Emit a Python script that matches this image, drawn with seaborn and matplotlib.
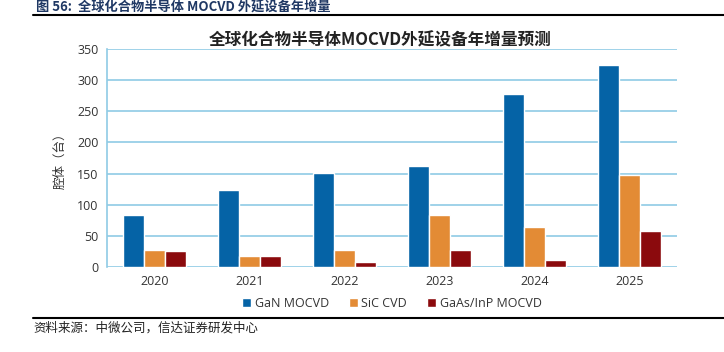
import numpy as np
import pandas as pd
import matplotlib
matplotlib.use("Agg")
import matplotlib.pyplot as plt
import seaborn as sns

# data
years = ["2020", "2021", "2022", "2023", "2024", "2025"]
gan = [84, 124, 151, 162, 278, 324]
sic = [27, 18, 27, 84, 65, 147]
gaas = [25, 18, 8, 27, 12, 57]
series = ["GaN MOCVD", "SiC CVD", "GaAs/InP MOCVD"]
colors = ["#0563A6", "#E38B35", "#8B0A0D"]

df = pd.DataFrame({
    "year": years * 3,
    "value": gan + sic + gaas,
    "series": np.repeat(series, len(years)),
})

sns.set_style("white")
plt.rcParams["font.family"] = ["Open Sans", "Noto Sans CJK SC", "DejaVu Sans"]

fig = plt.figure(figsize=(7.24, 3.52), dpi=100)
ax = fig.add_axes([0.1478, 0.2415, 0.787, 0.6193])

grid_c = "#8FCBE5"
sns.barplot(data=df, x="year", y="value", hue="series", palette=colors,
            width=0.66, saturation=1, ax=ax, legend=True)

ax.set_ylim(0, 350)
ax.set_xlim(-0.5, 5.5)
ax.set_yticks(range(0, 351, 50))
ax.yaxis.grid(True, color=grid_c, lw=1.2)
ax.set_axisbelow(True)
for s in ["top", "right", "bottom"]:
    ax.spines[s].set_visible(False)
ax.spines["left"].set_color(grid_c)
ax.spines["left"].set_linewidth(1.2)
ax.tick_params(axis="both", length=0, labelsize=9, colors="#333333", pad=6)
ax.set_xlabel("")
ax.set_ylabel("腔体（台）", fontsize=9, color="#333333", labelpad=8,
              family=["Noto Sans CJK SC", "DejaVu Sans"])

ax.legend(loc="upper center", bbox_to_anchor=(0.5, -0.085), ncol=3, frameon=False,
          fontsize=9, handlelength=0.7, handleheight=0.7, handletextpad=0.3,
          columnspacing=1.6, labelcolor="#333333")

fig.text(0.525, 0.885, "全球化合物半导体MOCVD外延设备年增量预测", ha="center", va="center",
         fontsize=12, fontweight="bold", color="#222222",
         family=["Noto Sans CJK SC", "DejaVu Sans"])

# report header and footer
fig.text(0.05, 0.997, "图 56:  全球化合物半导体 MOCVD 外延设备年增量", ha="left", va="top",
         fontsize=9.5, fontweight="bold", color="#1F3864",
         family=["Noto Sans CJK SC", "DejaVu Sans"])
fig.add_artist(plt.Line2D([0.046, 1.0], [0.958, 0.958], color="black", lw=1.5,
                          transform=fig.transFigure))
fig.add_artist(plt.Line2D([0.046, 1.0], [0.097, 0.097], color="black", lw=1.5,
                          transform=fig.transFigure))
fig.text(0.046, 0.068, "资料来源：中微公司，信达证券研发中心", ha="left", va="center",
         fontsize=9, style="italic", color="#222222",
         family=["Noto Sans CJK SC", "DejaVu Sans"])

fig.savefig("out.png", dpi=100)
